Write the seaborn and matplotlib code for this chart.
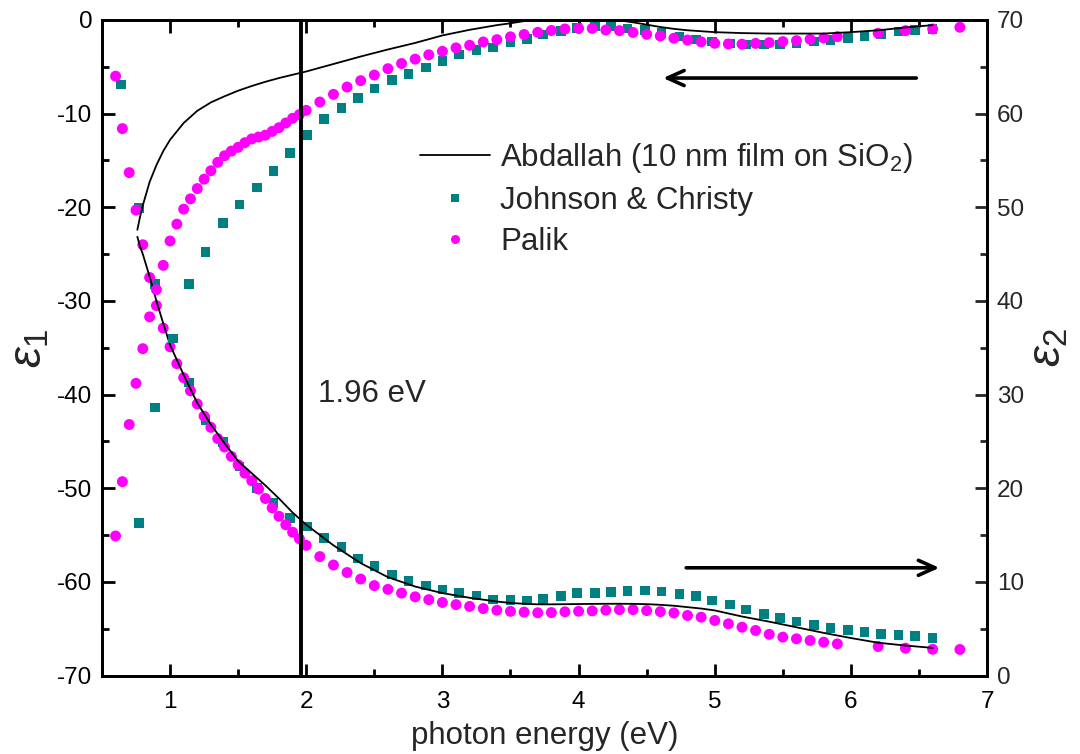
import numpy as np
import pandas as pd
import matplotlib
matplotlib.use("Agg")
import matplotlib.pyplot as plt
from matplotlib.lines import Line2D
from matplotlib.ticker import MultipleLocator
import seaborn as sns

# ---------------- data ----------------
# Abdallah (10 nm film on SiO2) – smooth curves
line_e = [0.76, 0.78, 0.80, 0.85, 0.90, 0.95, 1.00, 1.10, 1.20, 1.30, 1.40, 1.50, 1.60, 1.70,
          1.80, 1.90, 2.00, 2.20, 2.40, 2.60, 2.80, 3.00, 3.20, 3.40, 3.50, 3.60, 3.70, 3.80,
          4.00, 4.20, 4.30, 4.40, 4.50, 4.60, 4.70, 4.80, 4.90, 5.00, 5.20, 5.40, 5.60, 5.80,
          6.00, 6.20, 6.40, 6.60]
line_eps1 = [-22.4, -21.0, -19.8, -17.3, -15.5, -14.0, -12.8, -11.0, -9.7, -8.8, -8.15, -7.55, -7.05, -6.6,
             -6.2, -5.85, -5.5, -4.7, -3.9, -3.15, -2.45, -1.65, -1.05, -0.55, -0.35, -0.12, 0.05, 0.15,
             0.2, 0.1, -0.05, -0.25, -0.5, -0.75, -0.95, -1.1, -1.2, -1.3, -1.4, -1.45, -1.45, -1.45,
             -1.3, -1.1, -0.8, -0.55]
line_eps2 = [46.85, 45.8, 45.0, 42.6, 40.0, 37.6, 35.3, 32.1, 29.1, 26.8, 24.8, 22.9, 21.6, 20.3,
             18.9, 17.4, 16.1, 13.9, 12.0, 10.5, 9.5, 8.8, 8.3, 7.9, 7.75, 7.66, 7.6, 7.6,
             7.63, 7.66, 7.66, 7.65, 7.62, 7.55, 7.45, 7.3, 7.15, 6.95, 6.3, 5.75, 5.15, 4.55,
             4.0, 3.5, 3.2, 2.95]

# Johnson & Christy
jc_e = [0.64, 0.77, 0.89, 1.02, 1.14, 1.26, 1.39, 1.51, 1.64, 1.76, 1.88, 2.01, 2.13, 2.26,
        2.38, 2.50, 2.63, 2.75, 2.88, 3.00, 3.12, 3.25, 3.37, 3.50, 3.62, 3.74, 3.87, 3.99,
        4.12, 4.24, 4.36, 4.49, 4.61, 4.74, 4.86, 4.98, 5.11, 5.23, 5.36, 5.48, 5.60, 5.73,
        5.85, 5.98, 6.10, 6.22, 6.35, 6.47, 6.60]
jc_eps1 = [np.nan, -53.7, -41.4, -34.0, -28.2, -24.8, -21.7, -19.7, -17.9, -16.1, -14.2, -12.3, -10.6, -9.4,
           -8.3, -7.3, -6.4, -5.75, -5.08, -4.36, -3.68, -3.2, -2.92, -2.41, -2.03, -1.57, -1.16, -0.85,
           -0.71, -0.68, -0.89, -1.07, -1.42, -1.75, -2.07, -2.31, -2.5, -2.6, -2.62, -2.6, -2.52, -2.28,
           -2.12, -1.94, -1.7, -1.48, -1.25, -1.07, -0.95]
jc_eps2 = [63.1, 49.9, 41.8, 36.0, 31.3, 27.3, 24.95, 22.3, 20.0, 18.4, 16.8, 15.9, 14.7, 13.7,
           12.5, 11.7, 10.8, 10.1, 9.6, 9.19, 8.83, 8.55, 8.12, 8.08, 8.01, 8.19, 8.48, 8.8,
           8.83, 8.94, 9.05, 9.08, 8.97, 8.69, 8.48, 8.01, 7.59, 7.05, 6.59, 6.13, 5.77, 5.41,
           5.09, 4.88, 4.63, 4.45, 4.34, 4.2, 4.02]

# Palik
pa_e = [0.60, 0.65, 0.70, 0.75, 0.80, 0.85, 0.90, 0.95, 1.00, 1.05, 1.10, 1.15, 1.20, 1.25,
        1.30, 1.35, 1.40, 1.45, 1.50, 1.55, 1.60, 1.65, 1.70, 1.75, 1.80, 1.85, 1.90, 1.95,
        2.00, 2.10, 2.20, 2.30, 2.40, 2.50, 2.60, 2.70, 2.80, 2.90, 3.00, 3.10, 3.20, 3.30,
        3.40, 3.50, 3.60, 3.70, 3.80, 3.90, 4.00, 4.10, 4.20, 4.30, 4.40, 4.50, 4.60, 4.70,
        4.80, 4.90, 5.00, 5.10, 5.20, 5.30, 5.40, 5.50, 5.60, 5.70, 5.80, 5.90, 6.20, 6.40,
        6.60, 6.80]
pa_eps1 = [-55.1, -49.3, -43.2, -38.8, -35.1, -31.7, -28.8, -26.2, -23.6, -21.8, -20.2, -19.1, -18.0, -17.0,
           -16.1, -15.2, -14.5, -14.0, -13.6, -13.1, -12.7, -12.5, -12.3, -11.9, -11.5, -11.0, -10.5, -10.1,
           -9.65, -8.76, -7.94, -7.16, -6.48, -5.88, -5.2, -4.65, -4.18, -3.72, -3.35, -2.98, -2.7, -2.35,
           -2.1, -1.8, -1.55, -1.32, -1.12, -0.96, -0.9, -0.9, -1.07, -1.14, -1.33, -1.53, -1.71, -1.95,
           -2.14, -2.33, -2.49, -2.56, -2.58, -2.5, -2.42, -2.31, -2.21, -2.06, -1.93, -1.78, -1.42, -1.14,
           -0.96, -0.78]
pa_eps2 = [64.0, 58.4, 53.7, 49.7, 46.0, 42.5, 39.5, 37.1, 35.1, 33.3, 31.8, 30.4, 29.0, 27.7,
           26.5, 25.3, 24.4, 23.4, 22.5, 21.6, 20.8, 19.9, 18.9, 17.9, 17.0, 16.1, 15.3, 14.6,
           13.9, 12.7, 11.8, 11.0, 10.3, 9.6, 9.2, 8.8, 8.4, 8.1, 7.8, 7.57, 7.38, 7.15,
           6.97, 6.85, 6.77, 6.7, 6.72, 6.8, 6.86, 6.9, 6.98, 7.03, 7.03, 6.93, 6.82, 6.68,
           6.41, 6.23, 5.88, 5.52, 5.16, 4.81, 4.4, 4.1, 3.92, 3.74, 3.56, 3.38, 3.1, 2.92,
           2.8, 2.78]

marker_energy = 1.96
x_ticks = [1, 2, 3, 4, 5, 6, 7]
y1_ticks = [0, -10, -20, -30, -40, -50, -60, -70]
y2_ticks = [0, 10, 20, 30, 40, 50, 60, 70]

TEAL = "#008080"
MAGENTA = "#FF00FF"

# ---------------- style ----------------
sns.set_theme(style="ticks")
plt.rcParams["font.family"] = ["Liberation Sans", "DejaVu Sans"]
plt.rcParams["mathtext.fontset"] = "custom"
plt.rcParams["mathtext.rm"] = "Liberation Sans"
plt.rcParams["mathtext.it"] = "Liberation Sans:italic"
plt.rcParams["axes.unicode_minus"] = False

fig = plt.figure(figsize=(10.8, 7.54), dpi=100)
ax1 = fig.add_axes([0.0944, 0.1041, 0.8196, 0.8694])
ax2 = ax1.twinx()

df_line = pd.DataFrame({"e": line_e, "eps1": line_eps1, "eps2": line_eps2})
df_jc = pd.DataFrame({"e": jc_e, "eps1": jc_eps1, "eps2": jc_eps2})
df_pa = pd.DataFrame({"e": pa_e, "eps1": pa_eps1, "eps2": pa_eps2})

# eps1 on left axis
sns.scatterplot(data=df_jc, x="e", y="eps1", ax=ax1, marker="s", s=48, color=TEAL,
                edgecolor="none", linewidth=0, zorder=3)
sns.scatterplot(data=df_pa, x="e", y="eps1", ax=ax1, marker="o", s=62, color=MAGENTA,
                edgecolor="none", linewidth=0, zorder=4)
sns.lineplot(data=df_line, x="e", y="eps1", ax=ax1, color="black", lw=1.3, zorder=5,
             sort=False, estimator=None)

# eps2 on right axis
sns.scatterplot(data=df_jc, x="e", y="eps2", ax=ax2, marker="s", s=48, color=TEAL,
                edgecolor="none", linewidth=0, zorder=3)
sns.scatterplot(data=df_pa, x="e", y="eps2", ax=ax2, marker="o", s=62, color=MAGENTA,
                edgecolor="none", linewidth=0, zorder=4)
sns.lineplot(data=df_line, x="e", y="eps2", ax=ax2, color="black", lw=1.3, zorder=5,
             sort=False, estimator=None)

ax1.axvline(marker_energy, color="black", lw=2.8, zorder=6)

ax1.set_xlim(0.5, 7)
ax1.set_ylim(-70, 0)
ax2.set_ylim(0, 70)

ax1.set_xticks(x_ticks)
ax1.xaxis.set_minor_locator(MultipleLocator(0.5))
ax1.set_yticks(y1_ticks)
ax1.yaxis.set_minor_locator(MultipleLocator(5))
ax2.set_yticks(y2_ticks)
ax2.yaxis.set_minor_locator(MultipleLocator(5))

for a in (ax1, ax2):
    for sp in a.spines.values():
        sp.set_linewidth(2.0)
        sp.set_color("black")
        sp.set_visible(True)

ax1.tick_params(axis="both", which="both", direction="in", top=True, right=False,
                width=2.0, labelsize=17.5, colors="black")
ax1.tick_params(which="major", length=9)
ax1.tick_params(which="minor", length=5)
ax1.tick_params(axis="x", pad=11)
ax1.tick_params(axis="y", pad=7)
ax2.tick_params(axis="y", which="both", direction="in", right=True, left=False,
                width=2.0, labelsize=17.5, pad=7)
ax2.tick_params(axis="y", which="major", length=9)
ax2.tick_params(axis="y", which="minor", length=5)

ax1.set_xlabel("photon energy (eV)", fontsize=22.5, labelpad=6)
ax1.set_ylabel(r"$\varepsilon_{1}$", fontsize=34, labelpad=4)
ax2.set_ylabel(r"$\varepsilon_{2}$", fontsize=34, labelpad=2)

ax1.text(2.09, -39.9, "1.96 eV", fontsize=22.5, va="center", ha="left")

# arrows
ax1.annotate("", xy=(4.60, -6.2), xytext=(6.50, -6.2),
             arrowprops=dict(arrowstyle="->,head_length=1.0,head_width=0.45", lw=2.6, color="black"))
ax1.annotate("", xy=(6.67, -58.5), xytext=(4.77, -58.5),
             arrowprops=dict(arrowstyle="->,head_length=1.0,head_width=0.45", lw=2.6, color="black"))

handles = [
    Line2D([], [], color="black", lw=1.3),
    Line2D([], [], color=TEAL, marker="s", ls="none", markersize=5.5, markeredgewidth=0),
    Line2D([], [], color=MAGENTA, marker="o", ls="none", markersize=6.5, markeredgewidth=0),
]
labels = [r"Abdallah (10 nm film on SiO$_2$)", "Johnson & Christy", "Palik"]
leg = ax2.legend(handles, labels, loc="upper left", bbox_to_anchor=(0.359, 0.815),
                 frameon=False, fontsize=22.5, handlelength=2.25, handletextpad=0.32,
                 labelspacing=0.34, borderaxespad=0, borderpad=0)

ax1.set_zorder(2)
ax1.patch.set_visible(False)
ax2.set_zorder(1)

fig.savefig("out.png", dpi=100)
